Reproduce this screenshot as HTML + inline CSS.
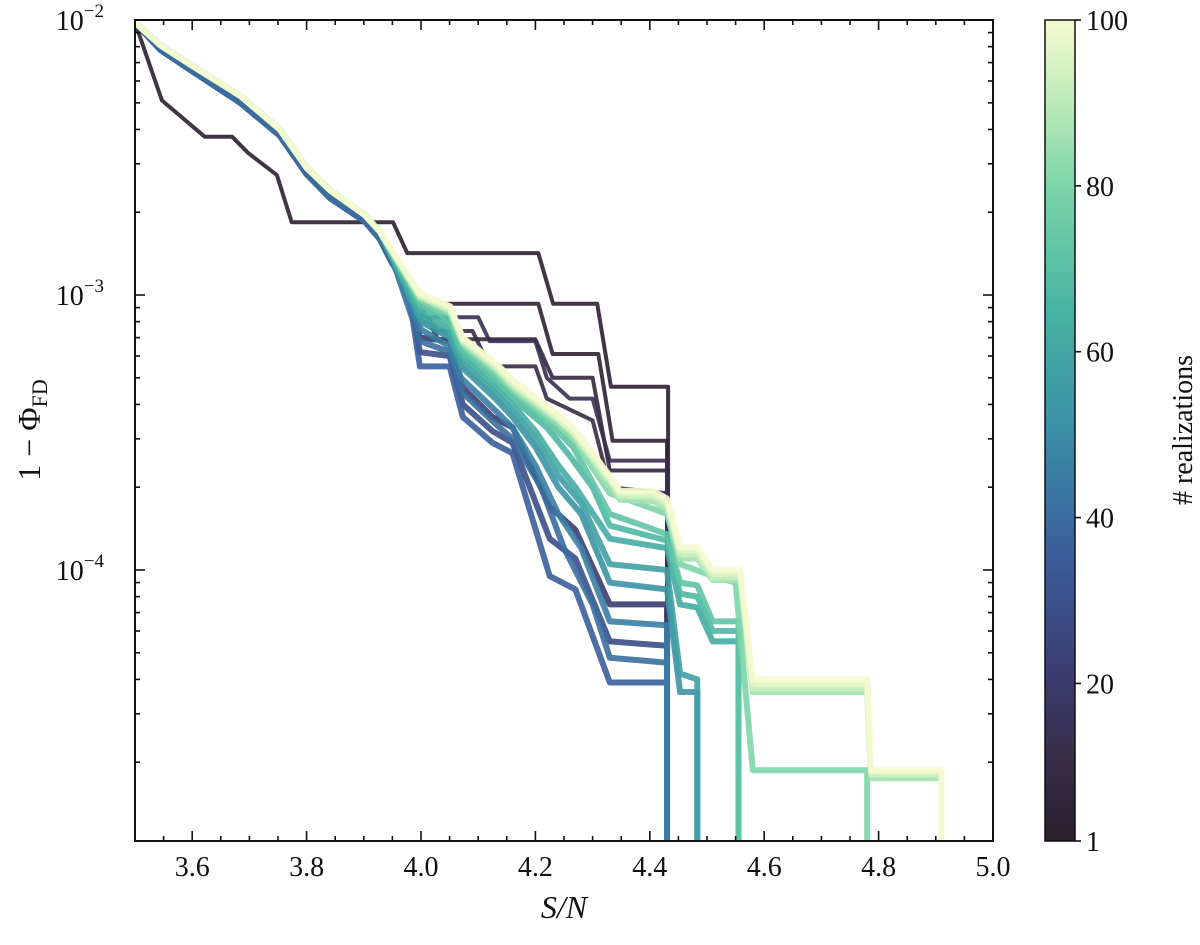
<!DOCTYPE html>
<html><head><meta charset="utf-8">
<style>
html,body{margin:0;padding:0;background:#fff;}
svg text{font-family:"Liberation Serif","DejaVu Serif",serif;fill:#111;}
</style></head>
<body>
<svg id="chart" width="1200" height="940" viewBox="0 0 1200 940" xmlns="http://www.w3.org/2000/svg">
<defs>
<linearGradient id="cbgrad" x1="0" y1="1" x2="0" y2="0">
<stop offset="0" stop-color="#2b1f2e"/>
<stop offset="0.1" stop-color="#372d48"/>
<stop offset="0.2" stop-color="#3b3c70"/>
<stop offset="0.35" stop-color="#3b5e9c"/>
<stop offset="0.5" stop-color="#3a8ea6"/>
<stop offset="0.65" stop-color="#47b4a2"/>
<stop offset="0.8" stop-color="#7dd5a8"/>
<stop offset="0.9" stop-color="#bdeab9"/>
<stop offset="1" stop-color="#f6fbd0"/>
</linearGradient>
<clipPath id="plotclip"><rect x="135" y="20" width="858" height="821"/></clipPath>
</defs>
<g id="lines" clip-path="url(#plotclip)"></g>
<rect x="135" y="20" width="858" height="821" fill="none" stroke="#111" stroke-width="2"/>
<g id="ticks"></g>
<text x="564" y="918" font-size="32" font-style="italic" text-anchor="middle">S/N</text>
<text transform="translate(40,430) rotate(-90)" font-size="32" text-anchor="middle">1 − Φ<tspan font-size="22" dy="7">FD</tspan></text>
<rect x="1045" y="20" width="30" height="821" fill="url(#cbgrad)" stroke="#111" stroke-width="1.5"/>
<g id="cbticks"></g>
<text transform="translate(1192,430) rotate(-90)" font-size="28" text-anchor="middle"># realizations</text>
</svg>
<script>
const xTicks = [3.6,3.8,4.0,4.2,4.4,4.6,4.8,5.0];
const yDecades = [-2,-3,-4];
const cbTicks = [1,20,40,60,80,100];
const E = [[3.5,9.8e-3],[3.544,8.1e-3],[3.596,6.9e-3],[3.684,5.3e-3],[3.753,4.0e-3],[3.80,2.9e-3],[3.841,2.4e-3],[3.902,1.95e-3],[3.928,1.7e-3]];
const EB = [[3.5,9.8e-3],[3.544,7.8e-3],[3.596,6.6e-3],[3.684,5.0e-3],[3.753,3.8e-3],[3.80,2.75e-3],[3.841,2.25e-3],[3.902,1.85e-3],[3.928,1.6e-3]];
const curveR = [1,3,6,9,12,20,28,35,40,45,52,57,62,67,72,80,86,92,96,100];
const curve1 = [[3.5,9.8e-3],[3.547,5.1e-3],[3.622,3.76e-3],[3.67,3.76e-3],[3.698,3.28e-3],[3.748,2.73e-3],[3.774,1.84e-3],[3.951,1.84e-3],[3.976,1.42e-3],[4.205,1.42e-3],[4.231,9.3e-4],[4.308,9.3e-4],[4.332,4.64e-4],[4.432,4.64e-4],[4.432,1e-5]];
const curve3 = EB.concat([[3.976,1.1e-3],[4.005,9.3e-4],[4.205,9.3e-4],[4.23,6.1e-4],[4.31,6.1e-4],[4.335,2.95e-4],[4.43,2.95e-4],[4.43,1e-5]]);
const curve6 = EB.concat([[3.976,1.05e-3],[4.0,9e-4],[4.03,6.9e-4],[4.2,6.9e-4],[4.23,5.0e-4],[4.3,5.0e-4],[4.33,2.3e-4],[4.43,2.3e-4],[4.43,1e-5]]);
const curve9 = EB.concat([[3.976,1.0e-3],[4.0,8.8e-4],[4.03,7.4e-4],[4.09,7.4e-4],[4.12,5.5e-4],[4.2,5.5e-4],[4.22,4.2e-4],[4.3,3.5e-4],[4.33,2.0e-4],[4.43,1.9e-4],[4.43,1e-5]]);
const curve12 = EB.concat([[3.976,1.0e-3],[4.0,8.3e-4],[4.1,8.3e-4],[4.12,6.8e-4],[4.2,6.8e-4],[4.22,5.0e-4],[4.26,4.2e-4],[4.3,4.2e-4],[4.33,2.5e-4],[4.43,2.5e-4],[4.43,1e-5]]);
const curve20 = EB.concat([[3.95,1.3e-3],[3.976,1.1e-3],[3.998,7e-4],[4.05,6.8e-4],[4.073,4.6e-4],[4.125,3.6e-4],[4.16,3.3e-4],[4.225,1.7e-4],[4.27,1.4e-4],[4.33,7.5e-5],[4.43,7.5e-5],[4.43,1e-5]]);
const curve28 = EB.concat([[3.95,1.3e-3],[3.976,1.1e-3],[3.998,6.2e-4],[4.05,6.0e-4],[4.073,4.0e-4],[4.125,3.2e-4],[4.16,2.9e-4],[4.225,1.3e-4],[4.27,1.1e-4],[4.33,5.5e-5],[4.43,5.3e-5],[4.43,1e-5]]);
const curve35 = EB.concat([[3.95,1.3e-3],[3.976,1.1e-3],[3.998,5.5e-4],[4.05,5.5e-4],[4.073,3.6e-4],[4.125,2.9e-4],[4.16,2.66e-4],[4.225,9.5e-5],[4.27,8.5e-5],[4.33,3.9e-5],[4.43,3.9e-5],[4.43,1e-5]]);
const curve40 = EB.concat([[3.95,1.35e-3],[3.998,6.8e-4],[4.05,6.2e-4],[4.073,4.4e-4],[4.13,3.4e-4],[4.16,3.0e-4],[4.21,2.0e-4],[4.25,1.2e-4],[4.3,7.5e-5],[4.33,4.8e-5],[4.43,4.6e-5],[4.43,1e-5]]);
const curve45 = E.concat([[4.0,7.5e-4],[4.05,6.5e-4],[4.07,5.0e-4],[4.13,3.8e-4],[4.16,3.3e-4],[4.2,2.4e-4],[4.24,1.6e-4],[4.28,1.2e-4],[4.33,6.5e-5],[4.43,6.3e-5],[4.43,1e-5]]);
const curve52 = E.concat([[4.0,8e-4],[4.05,7e-4],[4.07,5.5e-4],[4.13,4.2e-4],[4.16,3.6e-4],[4.2,2.8e-4],[4.24,2.0e-4],[4.28,1.6e-4],[4.33,9e-5],[4.43,8.5e-5],[4.453,3.6e-5],[4.483,3.6e-5],[4.483,1e-5]]);
const curve57 = E.concat([[4.0,8.2e-4],[4.05,7.2e-4],[4.07,5.7e-4],[4.13,4.4e-4],[4.16,3.8e-4],[4.2,3.0e-4],[4.24,2.2e-4],[4.28,1.75e-4],[4.33,1.05e-4],[4.43,1.0e-4],[4.453,4.2e-5],[4.483,4.0e-5],[4.483,1e-5]]);
const curve62 = E.concat([[4.0,8.5e-4],[4.05,7.5e-4],[4.07,6.0e-4],[4.13,4.6e-4],[4.16,4.0e-4],[4.2,3.2e-4],[4.24,2.4e-4],[4.27,2.0e-4],[4.33,1.3e-4],[4.43,1.2e-4],[4.453,7.5e-5],[4.483,7.3e-5],[4.51,5.5e-5],[4.555,5.5e-5],[4.555,1e-5]]);
const curve67 = E.concat([[4.0,8.9e-4],[4.05,7.9e-4],[4.07,6.2e-4],[4.13,4.8e-4],[4.16,4.2e-4],[4.22,3.3e-4],[4.26,2.6e-4],[4.3,2.0e-4],[4.33,1.45e-4],[4.43,1.28e-4],[4.453,8.2e-5],[4.483,8.0e-5],[4.51,6.0e-5],[4.555,6.0e-5],[4.555,1e-5]]);
const curve72 = E.concat([[4.0,9.2e-4],[4.05,8.2e-4],[4.07,6.4e-4],[4.13,5.0e-4],[4.16,4.3e-4],[4.238,3.2e-4],[4.266,2.8e-4],[4.33,1.6e-4],[4.43,1.35e-4],[4.453,9.0e-5],[4.483,8.8e-5],[4.51,6.5e-5],[4.555,6.5e-5],[4.555,1e-5]]);
const curve80 = E.concat([[3.998,9.6e-4],[4.051,8.5e-4],[4.073,6.6e-4],[4.133,5.2e-4],[4.161,4.5e-4],[4.238,3.4e-4],[4.266,3.0e-4],[4.33,1.9e-4],[4.43,1.6e-4],[4.453,1.05e-4],[4.51,9.5e-5],[4.55,9e-5],[4.58,1.87e-5],[4.78,1.87e-5],[4.78,1e-5]]);
const curve86 = E.concat([[3.998,9.8e-4],[4.051,8.7e-4],[4.073,6.7e-4],[4.133,5.3e-4],[4.161,4.6e-4],[4.238,3.5e-4],[4.266,3.1e-4],[4.33,2.0e-4],[4.348,1.8e-4],[4.406,1.78e-4],[4.43,1.66e-4],[4.453,1.1e-4],[4.483,1.1e-4],[4.51,9.2e-5],[4.558,9.2e-5],[4.58,3.6e-5],[4.78,3.6e-5],[4.787,1.75e-5],[4.91,1.75e-5],[4.91,1e-5]]);
const curve92 = E.concat([[3.998,9.9e-4],[4.051,8.8e-4],[4.073,6.8e-4],[4.133,5.4e-4],[4.161,4.7e-4],[4.238,3.55e-4],[4.266,3.15e-4],[4.33,2.1e-4],[4.348,1.85e-4],[4.406,1.85e-4],[4.43,1.72e-4],[4.453,1.14e-4],[4.483,1.14e-4],[4.51,9.4e-5],[4.558,9.4e-5],[4.58,3.7e-5],[4.78,3.7e-5],[4.787,1.8e-5],[4.91,1.8e-5],[4.91,1e-5]]);
const curve96 = E.concat([[3.998,1.0e-3],[4.051,9.0e-4],[4.073,6.9e-4],[4.133,5.5e-4],[4.161,4.8e-4],[4.238,3.6e-4],[4.266,3.2e-4],[4.33,2.15e-4],[4.348,1.9e-4],[4.406,1.9e-4],[4.43,1.77e-4],[4.453,1.18e-4],[4.483,1.18e-4],[4.51,9.7e-5],[4.558,9.7e-5],[4.58,3.85e-5],[4.78,3.85e-5],[4.787,1.84e-5],[4.91,1.84e-5],[4.91,1e-5]]);
const curve100 = E.concat([[3.998,1.02e-3],[4.051,9.1e-4],[4.073,7.0e-4],[4.133,5.6e-4],[4.161,4.9e-4],[4.238,3.7e-4],[4.266,3.3e-4],[4.33,2.2e-4],[4.348,1.94e-4],[4.406,1.94e-4],[4.43,1.82e-4],[4.453,1.21e-4],[4.483,1.21e-4],[4.51,1.0e-4],[4.558,1.0e-4],[4.58,4.0e-5],[4.78,4.0e-5],[4.787,1.87e-5],[4.91,1.87e-5],[4.91,1e-5]]);
const curves = [curve1,curve3,curve6,curve9,curve12,curve20,curve28,curve35,curve40,curve45,curve52,curve57,curve62,curve67,curve72,curve80,curve86,curve92,curve96,curve100];

const NS="http://www.w3.org/2000/svg";
const X0=135,X1=993,Y0=20,Y1=841;
function xs(v){return X0+(v-3.5)/1.5*(X1-X0);}
function ys(p){return Y0+(-2-Math.log10(p))*275;}
function cbY(v){return Y1-(v-1)/99*(Y1-Y0);}
const stops=[[1,[43,31,46]],[10,[55,45,72]],[20,[59,60,112]],[35,[59,94,156]],[50,[58,142,166]],[65,[71,180,162]],[80,[125,213,168]],[90,[189,234,185]],[100,[246,251,208]]];
function cmap(r){for(let i=0;i<stops.length-1;i++){const a=stops[i],b=stops[i+1];if(r<=b[0]){const t=(r-a[0])/(b[0]-a[0]);return 'rgb('+a[1].map((c,k)=>Math.round(c+(b[1][k]-c)*t)).join(',')+')';}}return 'rgb(246,251,208)';}
function mk(tag,attrs,parent){const e=document.createElementNS(NS,tag);for(const k in attrs)e.setAttribute(k,attrs[k]);parent.appendChild(e);return e;}

const lg=document.getElementById('lines');
curves.forEach((c,i)=>{
  const d=c.map((pt,j)=>(j?'L':'M')+xs(pt[0]).toFixed(1)+' '+ys(pt[1]).toFixed(1)).join(' ');
  const p=mk('path',{d:d,fill:'none',stroke:cmap(curveR[i]),'stroke-width':curveR[i]<15?4:6,'stroke-linejoin':'round','stroke-opacity':0.9},lg);
  
  
});

const tg=document.getElementById('ticks');
for(let v=3.5;v<=5.0001;v+=0.05){
  const x=xs(v);const major=Math.abs(Math.round(v*10)-v*10)<1e-6 && Math.round(v*10)%2===0;
  const L=major?10:5;
  mk('line',{x1:x,y1:Y1,x2:x,y2:Y1-L,stroke:'#111','stroke-width':1.6},tg);
  mk('line',{x1:x,y1:Y0,x2:x,y2:Y0+L,stroke:'#111','stroke-width':1.6},tg);
}
xTicks.forEach(v=>{
  const t=mk('text',{x:xs(v),y:Y1+35,'font-size':28,'text-anchor':'middle'},tg);
  t.textContent=v.toFixed(1);
  
  
});
for(let dec=-5;dec<=-3;dec++){
  for(let m=1;m<=9;m++){
    const p=m*Math.pow(10,dec);const y=ys(p);
    if(y<Y0-0.5||y>Y1+0.5)continue;
    const L=m===1?10:5;
    mk('line',{x1:X0,y1:y,x2:X0+L,y2:y,stroke:'#111','stroke-width':1.6},tg);
    mk('line',{x1:X1,y1:y,x2:X1-L,y2:y,stroke:'#111','stroke-width':1.6},tg);
  }
}
mk('line',{x1:X0,y1:Y0,x2:X0+10,y2:Y0,stroke:'#111','stroke-width':1.6},tg);
yDecades.forEach(dd=>{
  const y=ys(Math.pow(10,dd));
  const t=mk('text',{x:104,y:y+10,'font-size':28,'text-anchor':'end'},tg);
  t.textContent='10';
  const s=mk('tspan',{dy:-13,'font-size':19},t);s.textContent='−'+Math.abs(dd);
  
  
});
const cg=document.getElementById('cbticks');
cbTicks.forEach(v=>{
  const y=cbY(v);
  mk('line',{x1:1075,y1:y,x2:1081,y2:y,stroke:'#111','stroke-width':1.6},cg);
  const t=mk('text',{x:1086,y:y+10,'font-size':28},cg);
  t.textContent=v;
  
  
});
</script>
</body></html>
